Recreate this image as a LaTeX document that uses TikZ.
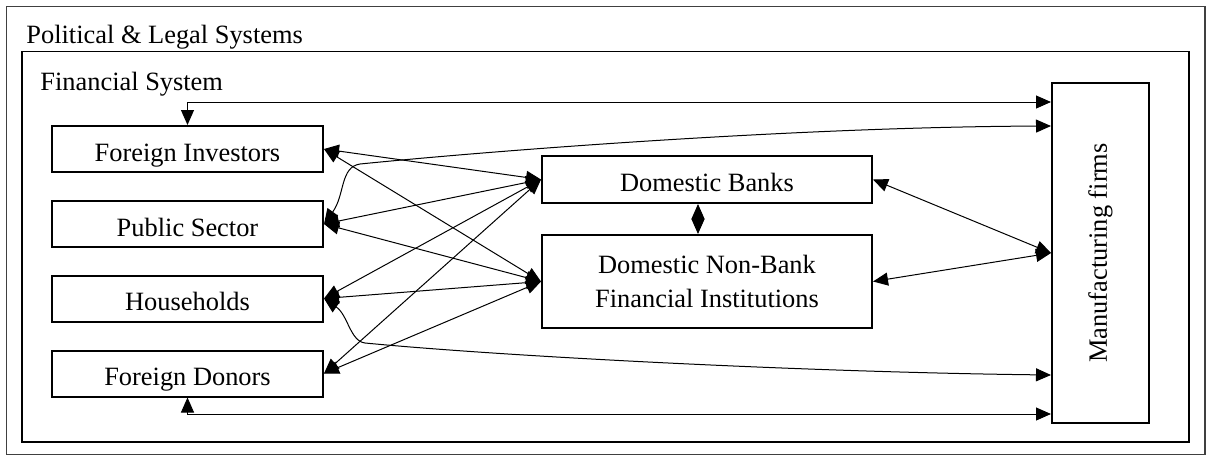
\documentclass[tikz,border=0pt]{standalone}
\usepackage{fontspec}
\setmainfont{Liberation Serif}
\usetikzlibrary{arrows.meta}

\begin{document}
\begin{tikzpicture}[
    x=0.5pt, y=-0.5pt,
    every node/.style={font=\fontsize{13.2pt}{17pt}\selectfont},
    frame/.style={line width=0.9pt},
    entity/.style={draw, line width=1pt, minimum width=135.5pt, minimum height=23pt,
      text height=12pt, text depth=0pt, inner sep=2pt},
    inst/.style={draw, line width=1pt, minimum width=165pt, minimum height=23.5pt,
      inner sep=2pt, align=center},
    link/.style={line width=0.5pt, >={Triangle[length=7.5pt, width=6.5pt]}, <->},
  ]
    \useasboundingbox (0,0) rectangle (1206,456);
    % frames
    \draw[frame, black!75] (6.5,6.5) rectangle (1205,454.5);
    \draw[frame] (22,51.5) rectangle (1189,442);
    \node[anchor=base west, inner sep=0pt] (pls) at (26,43) {Political \& Legal Systems};
    \node[anchor=base west, inner sep=0pt] (fs) at (40,90) {Financial System};
    % sectors
    \node[entity] (fi) at (187.5,149)   {Foreign Investors};
    \node[entity] (ps) at (187.5,224)   {Public Sector};
    \node[entity] (hh) at (187.5,298.5) {Households};
    \node[entity] (fd) at (187.5,373.5) {Foreign Donors};
    % institutions
    \node[inst, text height=12pt, text depth=0pt] (db) at (707,179.5) {Domestic Banks};
    \node[inst, minimum height=46.5pt] (nb) at (707,281.5) {Domestic Non-Bank\\Financial Institutions};
    % firms
    \node[draw, line width=1pt, minimum width=48.5pt, minimum height=170pt, inner sep=0pt]
          (mf) at (1100.5,253) {\rotatebox{90}{Manufacturing firms}};
    % sectors to institutions
    \draw[link] (fi.east) -- (db.west);
    \draw[link] (fi.east) -- (nb.west);
    \draw[link] (ps.east) -- (db.west);
    \draw[link] (ps.east) -- (nb.west);
    \draw[link] (hh.east) -- (db.west);
    \draw[link] (hh.east) -- (nb.west);
    \draw[link] (fd.east) -- (db.west);
    \draw[link] (fd.east) -- (nb.west);
    \draw[link] ([xshift=-4.5pt]db.south) -- ([xshift=-4.5pt]nb.north);
    % institutions to firms
    \draw[link] (db.east) -- (mf.west);
    \draw[link] (nb.east) -- (mf.west);
    % sectors to firms
    \draw[link] (fi.north) |- ([yshift=-10pt]mf.north west);
    \draw[link] (ps.east) .. controls (345,195) and (340,167) .. (360,164)
                .. controls (500,150) and (800,127) .. ([yshift=-22pt]mf.north west);
    \draw[link] (hh.east) .. controls (348,315) and (350,341) .. (365,343)
                .. controls (500,356) and (800,372) .. ([yshift=24.5pt]mf.south west);
    \draw[link] (fd.south) |- ([yshift=5pt]mf.south west);
\end{tikzpicture}
\end{document}
